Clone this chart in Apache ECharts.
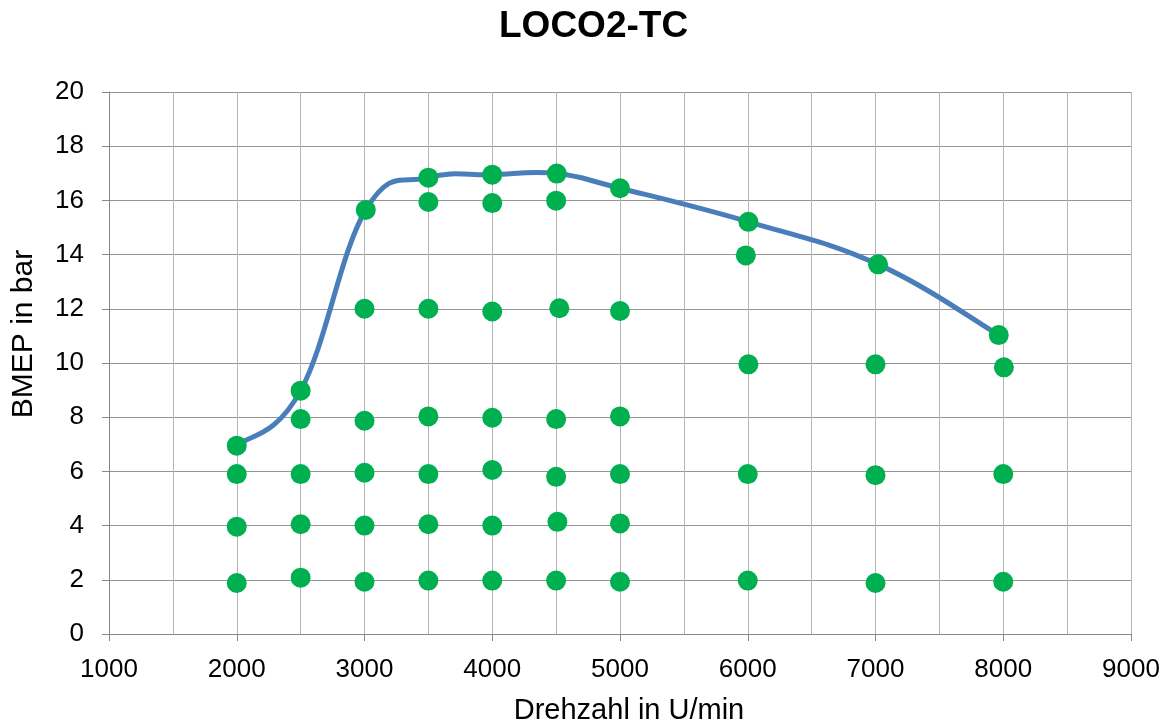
<!DOCTYPE html>
<html>
<head>
<meta charset="utf-8">
<script src="https://cdn.jsdelivr.net/npm/echarts@6/dist/echarts.min.js"></script>
<style>
  html, body { margin: 0; padding: 0; background: #fff; }
  #chart { width: 1169px; height: 724px; }
</style>
</head>
<body>
<div id="chart"></div>
<script>
// Full-load curve (BMEP at wide open throttle)
const curveRpm  = [2000, 2500, 3010, 3500, 4000, 4505, 5000, 6005, 7020, 7965];
const curveBmep = [6.95, 8.98, 15.65, 16.84, 16.95, 16.99, 16.45, 15.21, 13.64, 11.03];

// Measured operating points
const pointRpm = [
  2000, 2000, 2000, 2000,
  2500, 2500, 2500, 2500, 2500,
  3010, 3000, 3000, 3000, 3000, 3000,
  3500, 3500, 3500, 3500, 3500, 3500, 3500,
  4000, 4000, 4000, 4000, 4000, 4000, 4000,
  4505, 4500, 4525, 4500, 4500, 4510, 4500,
  5000, 5000, 5000, 5000, 5000, 5000,
  6005, 5985, 6005, 6000, 6000,
  7020, 7000, 7000, 7000,
  7965, 8005, 8000, 8000
];
const pointBmep = [
  6.95, 5.90, 3.96, 1.88,
  8.98, 7.93, 5.90, 4.05, 2.08,
  15.65, 12.0, 7.87, 5.95, 4.0, 1.93,
  16.84, 15.94, 12.0, 8.03, 5.90, 4.05, 1.97,
  16.95, 15.9, 11.9, 7.98, 6.05, 4.0, 1.97,
  16.99, 15.99, 12.02, 7.93, 5.8, 4.14, 1.97,
  16.45, 11.92, 8.03, 5.9, 4.08, 1.93,
  15.21, 13.97, 9.95, 5.90, 1.97,
  13.64, 9.95, 5.86, 1.88,
  11.03, 9.84, 5.90, 1.93
];

const chartTitle = 'LOCO2-TC';
const xName = 'Drehzahl in U/min';
const yName = 'BMEP in bar';

const font = '"Liberation Sans", Arial, sans-serif';
const chart = echarts.init(document.getElementById('chart'), null, { renderer: 'canvas' });

// Smoothed full-load line: cubic Bezier segments through the curve points
// (Catmull-Rom style tangents), positioned with the chart's own axes.
const tension = 0.2;
function renderCurve(params, api) {
  const pts = curveRpm.map((x, i) => api.coord([x, curveBmep[i]]));
  const n = pts.length;
  let d = 'M' + pts[0][0] + ',' + pts[0][1];
  for (let i = 0; i < n - 1; i++) {
    const p0 = pts[Math.max(i - 1, 0)];
    const p1 = pts[i];
    const p2 = pts[i + 1];
    const p3 = pts[Math.min(i + 2, n - 1)];
    const c1x = p1[0] + (p2[0] - p0[0]) * tension;
    const c1y = p1[1] + (p2[1] - p0[1]) * tension;
    const c2x = p2[0] - (p3[0] - p1[0]) * tension;
    const c2y = p2[1] - (p3[1] - p1[1]) * tension;
    d += ' C' + c1x + ',' + c1y + ' ' + c2x + ',' + c2y + ' ' + p2[0] + ',' + p2[1];
  }
  return {
    type: 'path',
    shape: { pathData: d },
    style: { stroke: '#4a7ebb', lineWidth: 5, fill: null, lineJoin: 'round', lineCap: 'round' }
  };
}

chart.setOption({
  backgroundColor: '#ffffff',
  animation: false,
  title: {
    text: chartTitle,
    left: 499,
    top: 8,
    padding: 0,
    textStyle: { fontFamily: font, fontSize: 37, fontWeight: 'bold', color: '#000' }
  },
  grid: { left: 109, right: 38, top: 92, bottom: 90, containLabel: false, outerBoundsMode: 'none' },
  xAxis: {
    type: 'value',
    min: 1000, max: 9000, interval: 1000,
    name: xName,
    nameLocation: 'middle',
    nameGap: 62,
    nameTextStyle: { fontFamily: font, fontSize: 29, color: '#000', padding: [0, 0, 0, 18] },
    axisLine: { show: true, lineStyle: { color: '#888888', width: 1 } },
    axisTick: { show: true, length: 7, lineStyle: { color: '#888888' } },
    axisLabel: { fontFamily: font, fontSize: 26, color: '#000', margin: 23, formatter: v => String(v) },
    splitLine: { show: true, lineStyle: { color: '#b5b5b5', width: 1 } },
    minorTick: { show: false, splitNumber: 2 },
    minorSplitLine: { show: true, lineStyle: { color: '#b5b5b5', width: 1 } }
  },
  yAxis: {
    type: 'value',
    min: 0, max: 20, interval: 2,
    name: yName,
    nameLocation: 'middle',
    nameGap: 70,
    nameTextStyle: { fontFamily: font, fontSize: 30, color: '#000', padding: [0, 0, 0, 58] },
    axisLine: { show: true, lineStyle: { color: '#888888', width: 1 } },
    axisTick: { show: true, length: 7, lineStyle: { color: '#888888' } },
    axisLabel: { fontFamily: font, fontSize: 26, color: '#000', margin: 25, formatter: v => String(v) },
    splitLine: { show: true, lineStyle: { color: '#959595', width: 1 } }
  },
  series: [
    {
      type: 'custom',
      coordinateSystem: 'cartesian2d',
      data: [[curveRpm[0], curveBmep[0]]],
      renderItem: renderCurve,
      clip: false,
      silent: true,
      z: 2
    },
    {
      type: 'scatter',
      data: pointRpm.map((x, i) => [x, pointBmep[i]]),
      symbol: 'circle',
      symbolSize: 20,
      itemStyle: { color: '#00b050', opacity: 1 },
      z: 3
    }
  ]
});
</script>
</body>
</html>
